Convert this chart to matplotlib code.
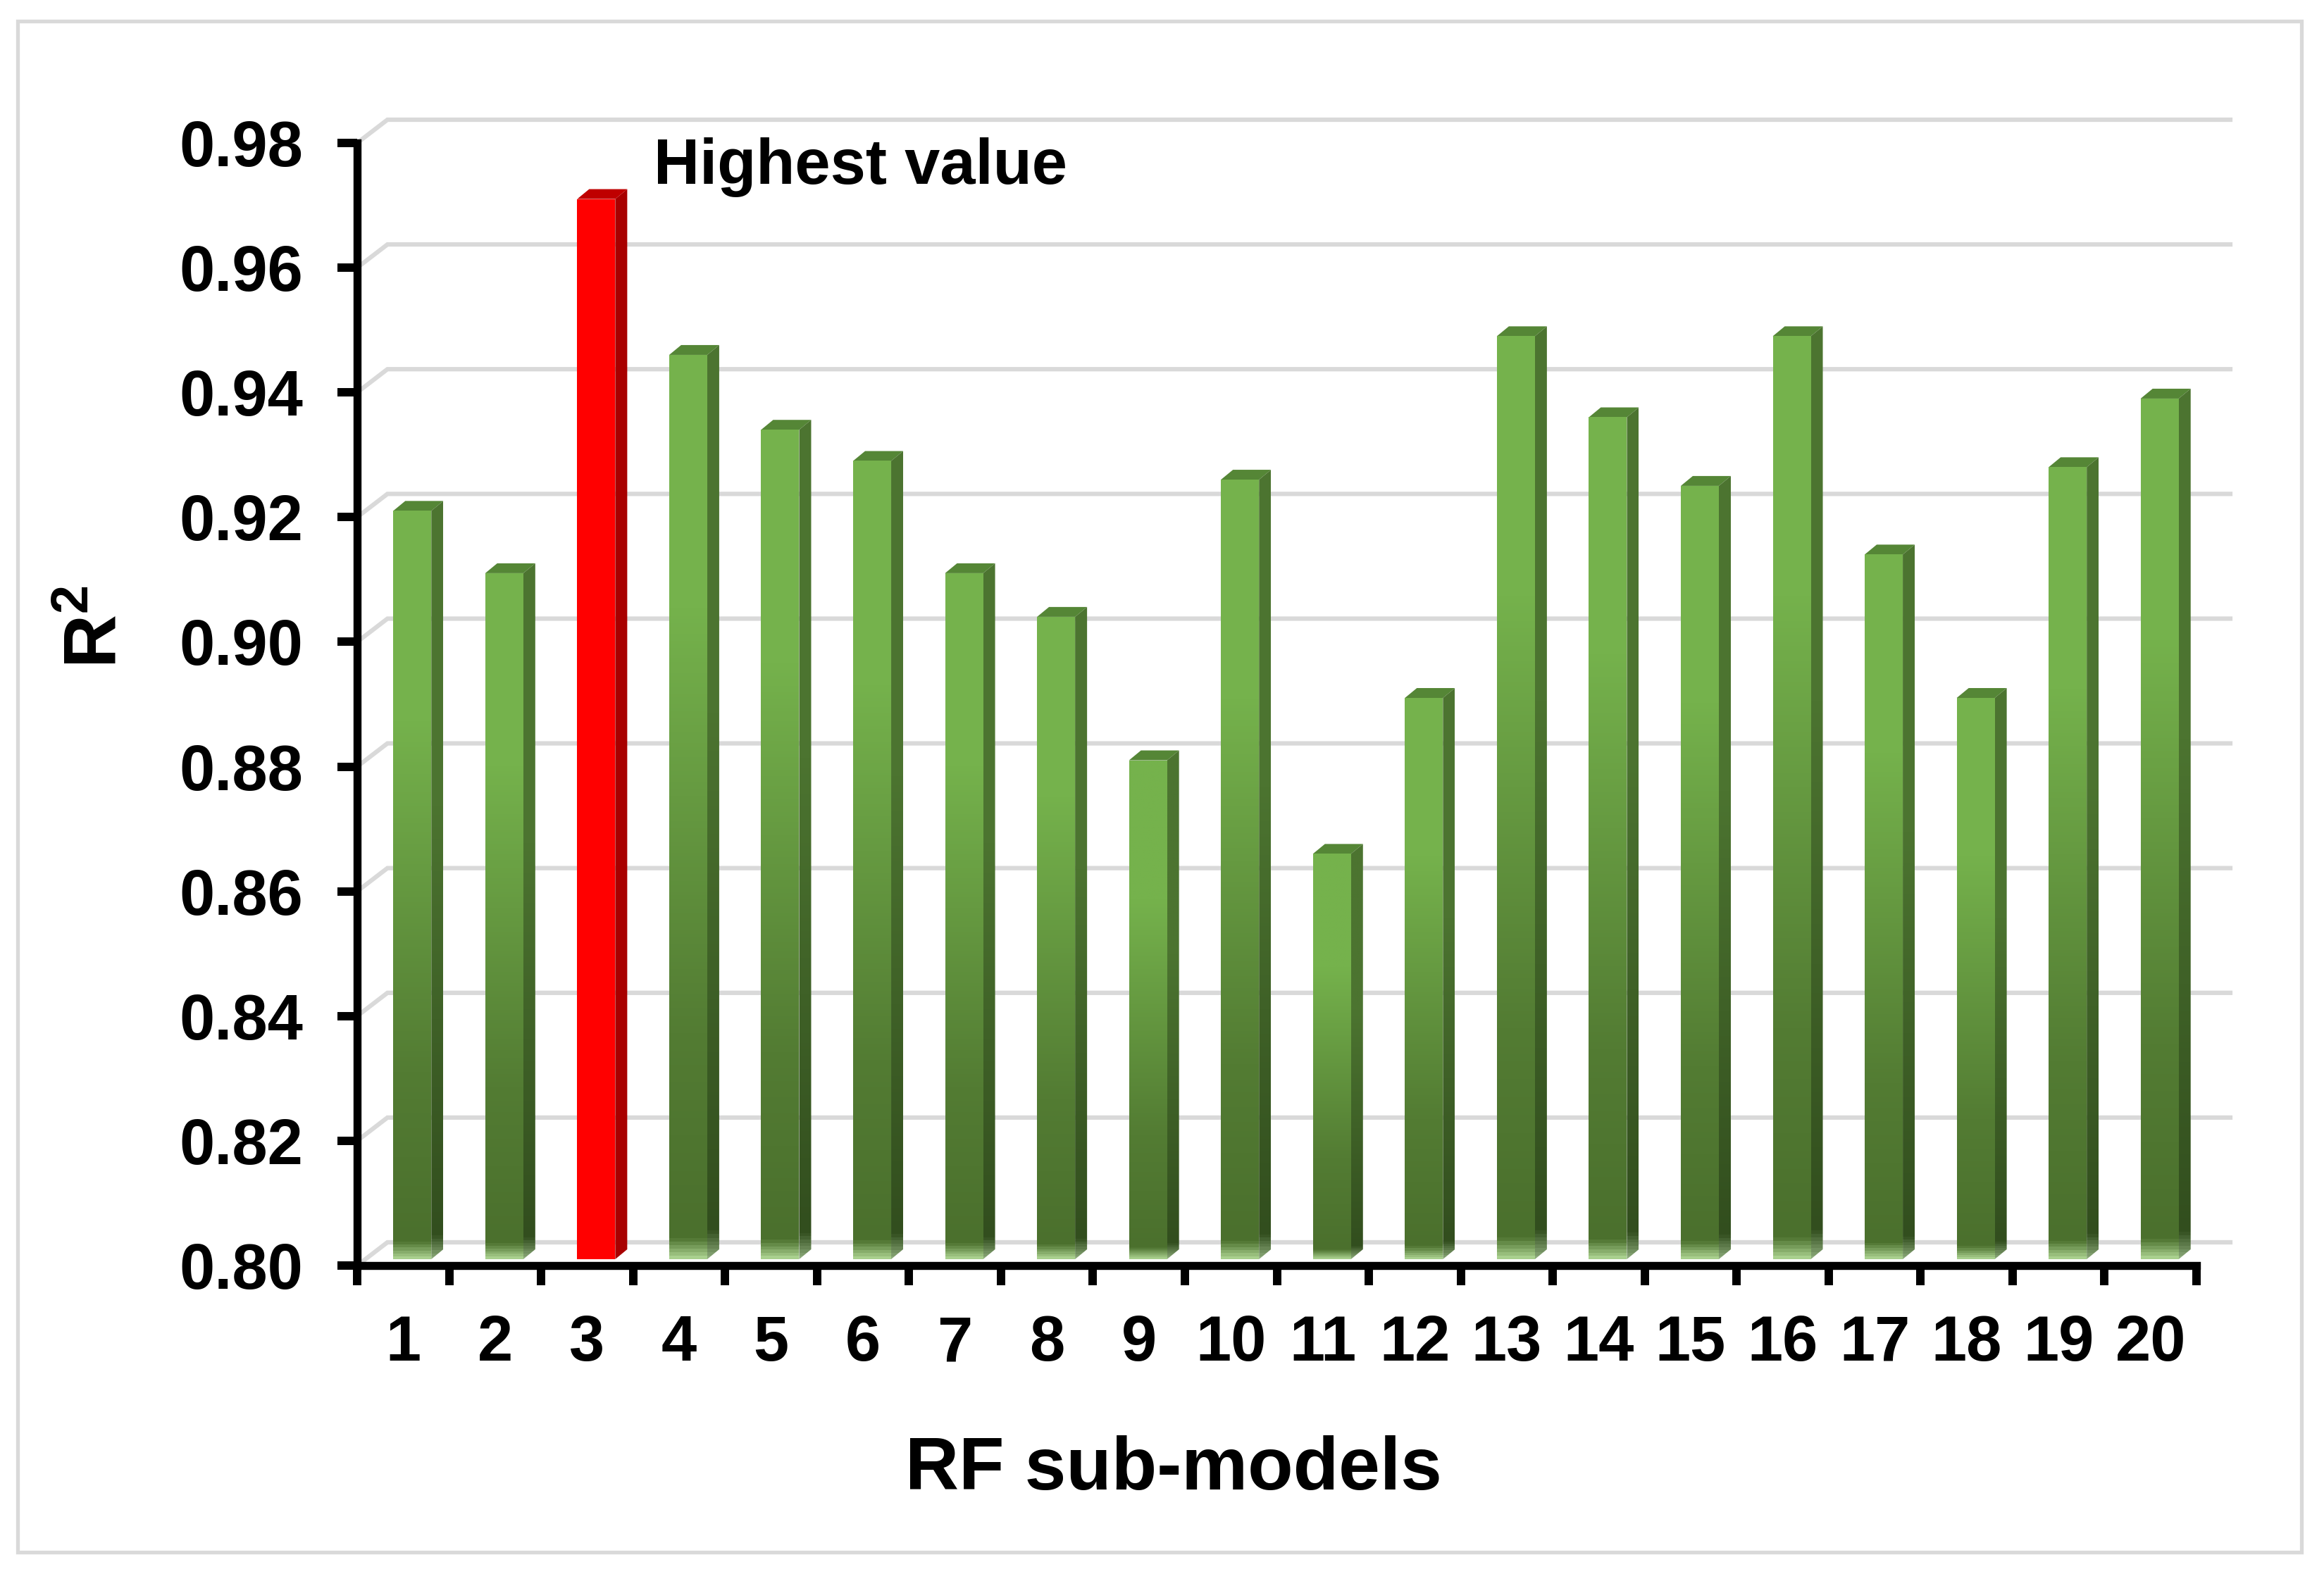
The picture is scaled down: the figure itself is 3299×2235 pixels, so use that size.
"""RF sub-model R2 bar chart with a pseudo-3D look."""

import matplotlib

matplotlib.use("Agg")
import matplotlib.pyplot as plt
import numpy as np
from matplotlib.colors import LinearSegmentedColormap
from matplotlib.patches import Polygon, Rectangle

W, H = 3299, 2235
DPI = 100

MODELS = list(range(1, 21))
R2 = [0.920, 0.910, 0.970, 0.945, 0.933, 0.928, 0.910, 0.903, 0.880, 0.925,
      0.865, 0.890, 0.948, 0.935, 0.924, 0.948, 0.913, 0.890, 0.927, 0.938]
Y_TICKS = [0.80, 0.82, 0.84, 0.86, 0.88, 0.90, 0.92, 0.94, 0.96, 0.98]
HIGHLIGHT = 3

plt.rcParams["font.family"] = ["Liberation Sans", "DejaVu Sans"]
plt.rcParams["font.weight"] = "bold"
plt.rcParams["mathtext.fontset"] = "custom"
plt.rcParams["mathtext.rm"] = "Liberation Sans:bold"
plt.rcParams["mathtext.bf"] = "Liberation Sans:bold"
plt.rcParams["mathtext.default"] = "bf"

GREEN = LinearSegmentedColormap.from_list(
    "bar", [(0, "#a9d08e"), (0.022, "#4b702d"), (0.25, "#537c33"),
            (0.72, "#75b24c"), (1, "#75b24c")])
GREEN_SIDE = LinearSegmentedColormap.from_list(
    "side", [(0, "#8aa878"), (0.03, "#324e1e"), (0.6, "#4c7430"), (1, "#4c7430")])


def main():
    fig = plt.figure(figsize=(W / DPI, H / DPI), dpi=DPI, facecolor="white")
    fig.add_artist(Rectangle((25 / W, 1 - 2204 / H), 3242 / W, 2174 / H,
                             transform=fig.transFigure, fill=False,
                             edgecolor="#d9d9d9", linewidth=3.8))

    ax = fig.add_axes([507 / W, 1 - 1797 / H, (3118 - 507) / W, (1797 - 203) / H])
    xlim = (0.5, 20.5)
    ylim = (0.80, 0.98)

    # pixel sizes turned into data units
    px_x = (xlim[1] - xlim[0]) / (3118 - 507)
    px_y = (ylim[1] - ylim[0]) / (1797 - 203)
    shift_x, lift_y = 13 * px_x, 9 * px_y
    bar_w = 54 * px_x
    depth_x, depth_y = 17 * px_x, 14 * px_y

    # back wall gridlines
    wall_x, wall_y = 43 * px_x, 33 * px_y
    for t in Y_TICKS:
        ax.plot([xlim[0], xlim[0] + wall_x, xlim[1] + 48 * px_x],
                [t, t + wall_y, t + wall_y], color="#d9d9d9", lw=4.5,
                clip_on=False, zorder=1, solid_joinstyle="miter")

    grad = np.linspace(0, 1, 256).reshape(-1, 1)
    for m, v in zip(MODELS, R2):
        x0 = m - bar_w / 2 + shift_x
        x1 = x0 + bar_w
        y0 = ylim[0] + lift_y
        top = v + lift_y
        hot = m == HIGHLIGHT
        cap = "#bf0000" if hot else "#558636"

        front = Polygon([(x0, y0), (x1, y0), (x1, top), (x0, top)],
                        transform=ax.transData, fc="none", ec="none")
        side = Polygon([(x1, y0), (x1 + depth_x, y0 + depth_y),
                        (x1 + depth_x, top + depth_y), (x1, top)],
                       transform=ax.transData, fc="none", ec="none")
        ax.add_patch(front)
        ax.add_patch(side)
        ax.add_patch(Polygon([(x0, top), (x1, top), (x1 + depth_x, top + depth_y),
                              (x0 + depth_x, top + depth_y)], fc=cap, ec="none", zorder=3))
        if hot:
            front.set(facecolor="#ff0000", zorder=3)
            side.set(facecolor="#a80000", zorder=3)
        else:
            im = ax.imshow(grad, cmap=GREEN, origin="lower", aspect="auto",
                           extent=(x0, x1, y0, top), zorder=3, vmin=0, vmax=1)
            im.set_clip_path(front)
            im2 = ax.imshow(grad, cmap=GREEN_SIDE, origin="lower", aspect="auto",
                            extent=(x1, x1 + depth_x, y0, top + depth_y), zorder=3,
                            vmin=0, vmax=1)
            im2.set_clip_path(side)

    ax.set_xlim(*xlim)
    ax.set_ylim(*ylim)
    ax.set_facecolor("none")

    for s in ("top", "right"):
        ax.spines[s].set_visible(False)
    for s in ("left", "bottom"):
        ax.spines[s].set_linewidth(8.2)
        ax.spines[s].set_capstyle("projecting")

    ax.set_yticks(Y_TICKS)
    ax.set_yticklabels([f"{t:.2f}" for t in Y_TICKS], fontsize=65, fontweight="bold")
    ax.tick_params(axis="y", length=20, width=8.6, pad=35)

    ax.set_xticks(np.arange(0.5, 21, 1))
    ax.set_xticklabels([])
    ax.set_xticks(MODELS, minor=True)
    ax.set_xticklabels([str(m) for m in MODELS], minor=True, fontsize=65, fontweight="bold")
    ax.tick_params(axis="x", which="major", length=20, width=8.6)
    ax.tick_params(axis="x", which="minor", length=0, pad=50)

    fig.text(1666 / W, 1 - 2088 / H, "RF sub-models", fontsize=76, fontweight="bold",
             ha="center", va="center")
    fig.text(928 / W, 1 - 238 / H, "Highest value", fontsize=65, fontweight="bold",
             ha="left", va="center")
    fig.text(138 / W, 1 - 890 / H, r"R$^{2}$", fontsize=76, fontweight="bold",
             rotation=90, ha="center", va="center")

    fig.savefig("out.png", dpi=DPI)


if __name__ == "__main__":
    main()
